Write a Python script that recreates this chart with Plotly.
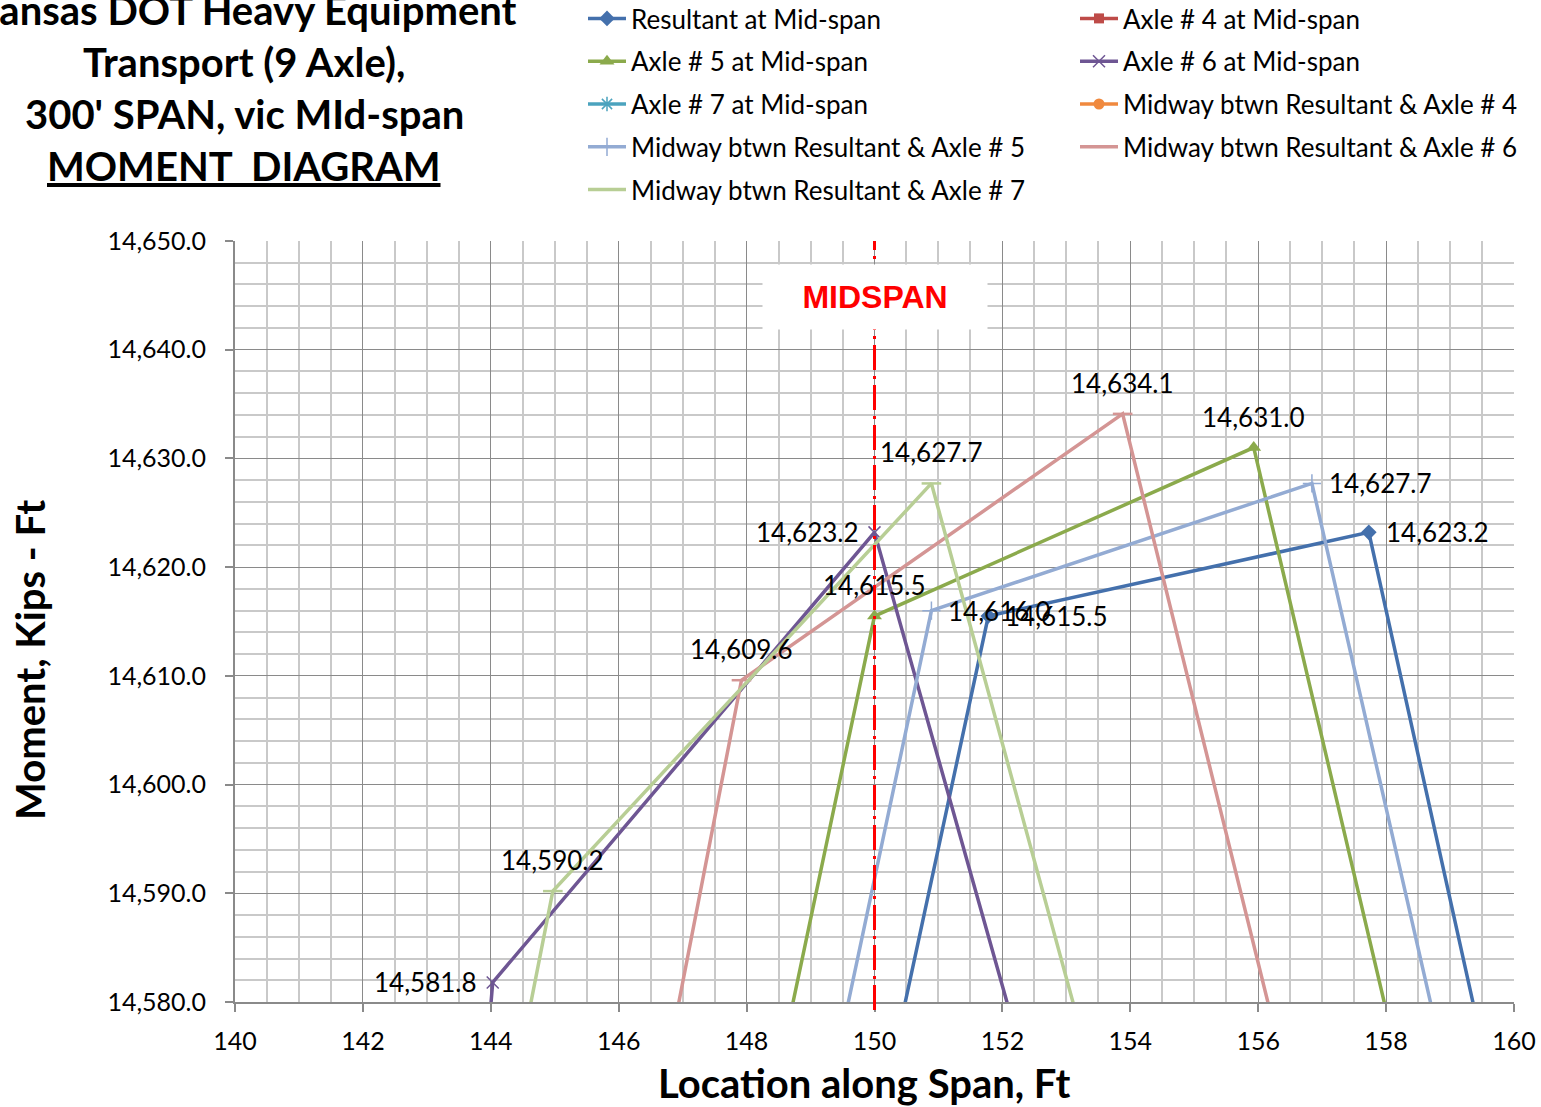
import plotly.graph_objects as go

FONT = "Lato"

# ---------------- data ----------------
TITLE_LINES = ["Kansas DOT Heavy Equipment", "Transport (9 Axle),",
               "300' SPAN, vic MId-span", "<u>MOMENT  DIAGRAM</u>"]
X_TITLE = "Location along Span, Ft"
Y_TITLE = "Moment, Kips - Ft"
X_RANGE = [140, 160]
Y_RANGE = [14580, 14650]
MIDSPAN_X = 150

NAMES = ["Resultant at Mid-span", "Axle # 4 at Mid-span",
         "Axle # 5 at Mid-span", "Axle # 6 at Mid-span",
         "Axle # 7 at Mid-span", "Midway btwn Resultant & Axle # 4",
         "Midway btwn Resultant & Axle # 5", "Midway btwn Resultant & Axle # 6",
         "Midway btwn Resultant & Axle # 7"]

# vertices of each moment diagram (points beyond the axis limits are clipped)
resultant_x = [149.75, 151.78, 157.73, 160.11]
resultant_y = [14560.0, 14615.5, 14623.2, 14560.0]

axle4_x = [None]
axle4_y = [None]

axle5_x = [148.01, 150.00, 155.93, 158.77]
axle5_y = [14560.0, 14615.5, 14631.0, 14560.0]

axle6_x = [143.72, 144.03, 150.00, 153.03]
axle6_y = [14560.0, 14581.8, 14623.2, 14560.0]

axle7_x = [None]
axle7_y = [None]

mid4_x = [None]
mid4_y = [None]

mid5_x = [148.87, 150.89, 156.84, 159.47]
mid5_y = [14560.0, 14616.0, 14627.7, 14560.0]

mid6_x = [146.28, 147.92, 153.88, 156.99]
mid6_y = [14560.0, 14609.6, 14634.1, 14560.0]

mid7_x = [143.96, 144.97, 150.89, 154.03]
mid7_y = [14560.0, 14590.2, 14627.7, 14560.0]

# data labels: which vertices are labelled, and on which side
resultant_lbl = [None, "right", "right", None]
axle5_lbl = [None, "top", "top", None]
axle6_lbl = [None, "left", "left", None]
mid5_lbl = [None, "right", "right", None]
mid6_lbl = [None, "top", "top", None]
mid7_lbl = [None, "top", "top", None]

# ---------------- styles ----------------
STYLE = {
    NAMES[0]: dict(color="#4470AC", symbol="diamond", size=12, lw=0, col=1),
    NAMES[1]: dict(color="#BE4B48", symbol="square", size=10, lw=0, col=2),
    NAMES[2]: dict(color="#8BAA4C", symbol="triangle-up", size=13, lw=0, col=1),
    NAMES[3]: dict(color="#6E5693", symbol="x-thin", size=12, lw=1.5, col=2),
    NAMES[4]: dict(color="#4BA3BE", symbol="asterisk", size=12, lw=1.5, col=1),
    NAMES[5]: dict(color="#F0893E", symbol="circle", size=11, lw=0, col=2),
    NAMES[6]: dict(color="#93ABD3", symbol="cross-thin", size=13, lw=1.5, col=1),
    NAMES[7]: dict(color="#D49594", symbol="line-ew", size=14, lw=2.5, col=2),
    NAMES[8]: dict(color="#B8CE95", symbol="line-ew", size=14, lw=2.5, col=1),
}

DATA = [
    (resultant_x, resultant_y, resultant_lbl),
    (axle4_x, axle4_y, None),
    (axle5_x, axle5_y, axle5_lbl),
    (axle6_x, axle6_y, axle6_lbl),
    (axle7_x, axle7_y, None),
    (mid4_x, mid4_y, None),
    (mid5_x, mid5_y, mid5_lbl),
    (mid6_x, mid6_y, mid6_lbl),
    (mid7_x, mid7_y, mid7_lbl),
]

W, H = 1541, 1107
ML, MR, MT, MB = 235, 27, 241, 105
PW, PH = W - ML - MR, H - MT - MB


def px_x(p):  # page pixel -> paper x
    return (p - ML) / PW


def px_y(p):  # page pixel -> paper y
    return (H - MB - p) / PH


fig = go.Figure()
annotations = []
LABEL_FONT = dict(family=FONT, size=26, color="black")

for name, (xs, ys, lbl) in zip(NAMES, DATA):
    st = STYLE[name]
    fig.add_trace(go.Scatter(
        x=xs, y=ys, name=name, mode="lines+markers",
        line=dict(color=st["color"], width=3.5),
        marker=dict(symbol=st["symbol"], size=st["size"], color=st["color"],
                    line=dict(color=st["color"], width=st["lw"])),
        legend="legend" if st["col"] == 1 else "legend2",
        legendgroup=name,
    ))
    if lbl:
        for xv, yv, side in zip(xs, ys, lbl):
            if side is None:
                continue
            a = dict(x=xv, y=yv, xref="x", yref="y", text=f"{yv:,.1f}",
                     showarrow=False, font=LABEL_FONT, yanchor="middle")
            if side == "top":
                a.update(xanchor="center", yshift=31)
            elif side == "right":
                a.update(xanchor="left", xshift=15)
            else:
                a.update(xanchor="right", xshift=-14)
            annotations.append(a)

axis_common = dict(
    showgrid=True, gridcolor="#8A8A8A", gridwidth=1,
    showline=True, linecolor="#8A8A8A", linewidth=2,
    ticks="outside", ticklen=8, tickcolor="#8A8A8A", tickwidth=1.5,
    tickfont=dict(family=FONT, size=25, color="black"),
    zeroline=False, automargin=False, ticklabeloverflow="allow",
)

legend_common = dict(xanchor="left", yanchor="top", orientation="v",
                     tracegroupgap=6, bgcolor="rgba(0,0,0,0)",
                     font=dict(family=FONT, size=26, color="black"), itemwidth=38)

fig.update_layout(
    template="none",
    width=W, height=H,
    margin=dict(l=ML, r=MR, t=MT, b=MB, autoexpand=False),
    paper_bgcolor="white", plot_bgcolor="white",
    font=dict(family=FONT, color="black"),
    xaxis=dict(range=X_RANGE, dtick=2, tick0=140, ticklabelstandoff=8,
               minor=dict(dtick=0.5, showgrid=True, gridcolor="#C9C9C9", gridwidth=1.5),
               **axis_common),
    yaxis=dict(range=Y_RANGE, dtick=10, tick0=14580, tickformat=",.1f",
               ticklabelstandoff=14,
               minor=dict(dtick=2, showgrid=True, gridcolor="#C9C9C9", gridwidth=1.5),
               **axis_common),
    legend=dict(x=px_x(583), y=px_y(-5), **legend_common),
    legend2=dict(x=px_x(1075), y=px_y(-5), **legend_common),
    showlegend=True,
)

# midspan reference line
fig.add_shape(type="line", xref="x", yref="paper", x0=MIDSPAN_X, x1=MIDSPAN_X,
              y0=-8 / PH, y1=1, layer="above",
              line=dict(color="#FF0000", width=3, dash="25px,6px,3px,6px"))
annotations.append(dict(x=MIDSPAN_X, xref="x", y=px_y(297), yref="paper",
                        text="<b>MIDSPAN</b>", showarrow=False,
                        xanchor="center", yanchor="middle",
                        width=222, height=62, bgcolor="white",
                        font=dict(family="Liberation Sans", size=32, color="#FF0000")))

# axis titles
annotations.append(dict(x=px_x(864), y=px_y(1083), xref="paper", yref="paper",
                        text=f"<b>{X_TITLE}</b>", showarrow=False,
                        xanchor="center", yanchor="middle",
                        font=dict(family=FONT, size=40, color="black")))
annotations.append(dict(x=px_x(30), y=px_y(660), xref="paper", yref="paper",
                        text=f"<b>{Y_TITLE}</b>", showarrow=False, textangle=-90,
                        xanchor="center", yanchor="middle",
                        font=dict(family=FONT, size=40, color="black")))

# title block
for line, cy in zip(TITLE_LINES, [10, 62, 114, 166]):
    annotations.append(dict(x=px_x(244), xref="paper", y=px_y(cy), yref="paper",
                            text=f"<b>{line}</b>", showarrow=False,
                            xanchor="center", yanchor="middle",
                            font=dict(family=FONT, size=40, color="black")))

fig.update_layout(annotations=annotations)
# remove the browser's default 8px body margin so the figure fills the window
fig.write_html("out.html", config={"displayModeBar": False},
               post_script="document.body.style.margin='0';")
